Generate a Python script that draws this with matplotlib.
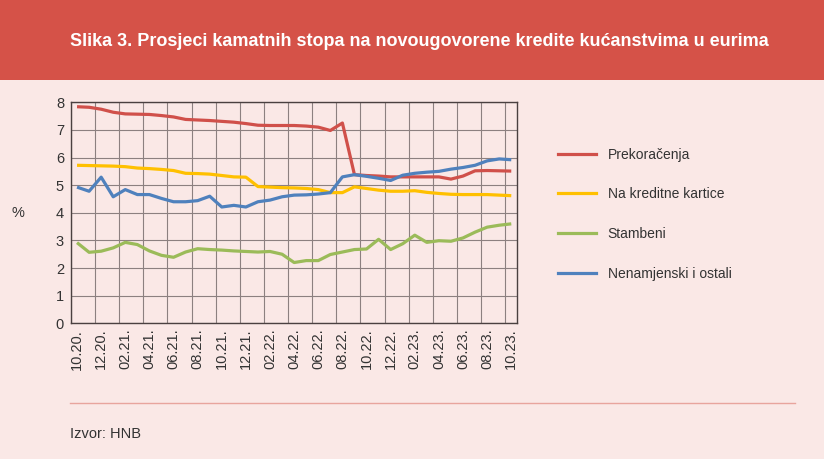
import matplotlib
matplotlib.use("Agg")
import matplotlib.pyplot as plt
import numpy as np
from matplotlib.lines import Line2D
from matplotlib.patches import Rectangle

months = ["10.20.", "11.20.", "12.20.", "01.21.", "02.21.", "03.21.", "04.21.", "05.21.", "06.21.",
          "07.21.", "08.21.", "09.21.", "10.21.", "11.21.", "12.21.", "01.22.", "02.22.", "03.22.",
          "04.22.", "05.22.", "06.22.", "07.22.", "08.22.", "09.22.", "10.22.", "11.22.", "12.22.",
          "01.23.", "02.23.", "03.23.", "04.23.", "05.23.", "06.23.", "07.23.", "08.23.", "09.23.",
          "10.23."]

prekoracenja = [7.84, 7.82, 7.75, 7.64, 7.58, 7.57, 7.56, 7.52, 7.47, 7.38, 7.36, 7.34, 7.31,
                7.28, 7.23, 7.17, 7.16, 7.16, 7.16, 7.14, 7.10, 6.98, 7.25, 5.38, 5.35, 5.33,
                5.30, 5.30, 5.30, 5.30, 5.30, 5.22, 5.33, 5.52, 5.53, 5.52, 5.51]
kartice = [5.72, 5.71, 5.70, 5.69, 5.67, 5.62, 5.60, 5.57, 5.53, 5.43, 5.42, 5.40, 5.35,
           5.30, 5.29, 4.95, 4.93, 4.91, 4.90, 4.88, 4.84, 4.73, 4.73, 4.94, 4.88, 4.82,
           4.78, 4.78, 4.80, 4.74, 4.70, 4.67, 4.66, 4.66, 4.66, 4.64, 4.62]
stambeni = [2.92, 2.57, 2.61, 2.73, 2.93, 2.85, 2.62, 2.46, 2.39, 2.58, 2.70, 2.67, 2.65,
            2.62, 2.60, 2.58, 2.60, 2.50, 2.20, 2.27, 2.27, 2.49, 2.58, 2.67, 2.69, 3.04,
            2.67, 2.88, 3.19, 2.93, 2.99, 2.97, 3.09, 3.30, 3.48, 3.55, 3.60]
nenamjenski = [4.93, 4.78, 5.29, 4.58, 4.84, 4.66, 4.66, 4.52, 4.40, 4.40, 4.44, 4.60, 4.21,
               4.27, 4.21, 4.40, 4.46, 4.58, 4.64, 4.65, 4.68, 4.73, 5.30, 5.38, 5.32, 5.25,
               5.17, 5.36, 5.43, 5.47, 5.50, 5.58, 5.64, 5.72, 5.88, 5.95, 5.92]

series_names = ["Prekoračenja", "Na kreditne kartice", "Stambeni", "Nenamjenski i ostali"]
series_colors = ["#d0504a", "#ffc000", "#9bbb59", "#4f81bd"]

BG = "#fae8e6"
HEADER = "#d55248"
TXT = "#333333"
GRID = "#8c8080"

plt.rcParams["font.family"] = ["Liberation Sans Narrow", "Liberation Sans", "DejaVu Sans"]

fig = plt.figure(figsize=(8.24, 4.59), dpi=100, facecolor=BG)

# header band
fig.patches.append(Rectangle((0, 1 - 80 / 459), 1, 80 / 459, transform=fig.transFigure,
                             facecolor=HEADER, edgecolor="none", zorder=0))
fig.text(70 / 824, 1 - 42 / 459, "Slika 3. Prosjeci kamatnih stopa na novougovorene kredite kućanstvima u eurima",
         color="white", fontsize=13, fontweight="bold", va="center", ha="left",
         family=["Liberation Sans", "DejaVu Sans"])

ax = fig.add_axes([71 / 824, 1 - 323.3 / 459, (517.3 - 71) / 824, (323.3 - 102.3) / 459])
ax.set_facecolor(BG)

x = np.arange(len(months)) + 0.5
series = [prekoracenja, kartice, stambeni, nenamjenski]
for vals, name, col in zip(series, series_names, series_colors):
    ax.plot(x, vals, color=col, lw=2.3, label=name, solid_capstyle="butt", zorder=3)

ax.set_xlim(0, len(months))
ax.set_ylim(0, 8)
ax.set_yticks(range(0, 9))
ax.set_xticks(x[::2])
ax.set_xticklabels(months[::2], rotation=90)
ax.set_xticks(np.arange(0, len(months), 2), minor=True)
ax.tick_params(axis="both", which="both", length=0, labelsize=10.5, colors=TXT, pad=5)
ax.tick_params(axis="x", which="major", pad=4)
ax.grid(axis="x", which="minor", color=GRID, lw=0.8)
ax.grid(axis="y", which="major", color=GRID, lw=0.8)
for sp in ax.spines.values():
    sp.set_color("#4a4040")
    sp.set_linewidth(1.0)

fig.text(18 / 824, 1 - 213 / 459, "%", fontsize=10.5, color=TXT, ha="center", va="center")

handles = [Line2D([0], [0], color=c, lw=2.3) for c in series_colors]
fig.legend(handles, series_names, loc="upper left", bbox_to_anchor=(545 / 824, 1 - 135 / 459),
           frameon=False, fontsize=10, labelcolor=TXT, handlelength=2.75, handletextpad=0.85,
           labelspacing=1.85)

# separator and source
fig.add_artist(Line2D([70 / 824, 795 / 824], [1 - 403 / 459, 1 - 403 / 459],
                      transform=fig.transFigure, color="#e8a49d", lw=1.0))
fig.text(70 / 824, 1 - 434 / 459, "Izvor: HNB", fontsize=10.5, color=TXT, ha="left", va="center")

fig.savefig("out.png", dpi=100, facecolor=BG)
